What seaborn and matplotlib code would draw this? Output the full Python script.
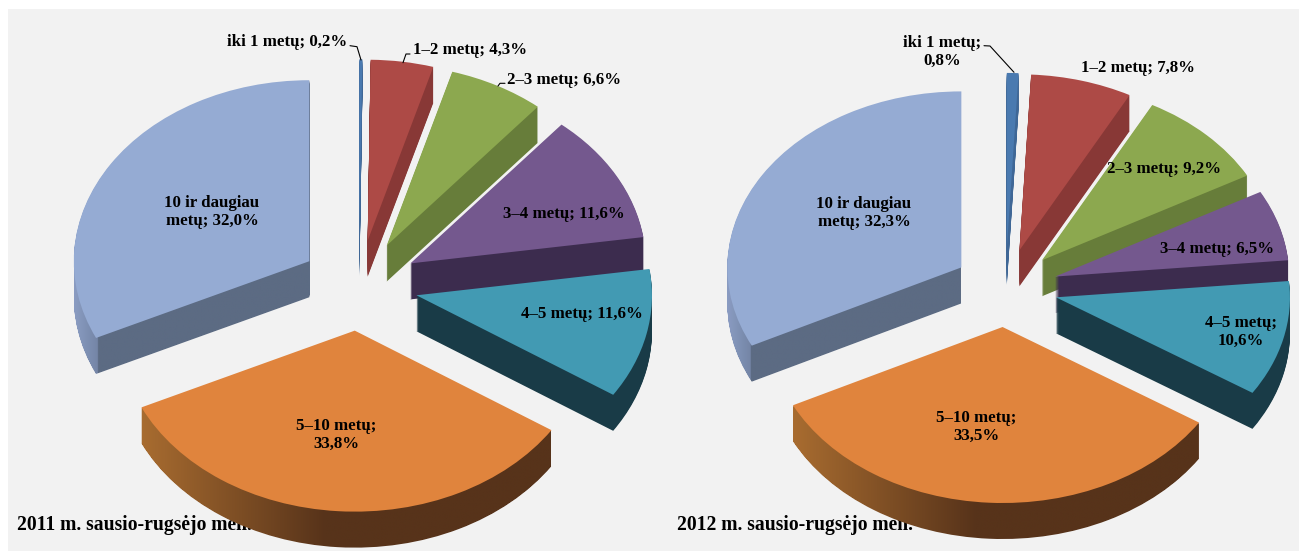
import numpy as np
import matplotlib
matplotlib.use("Agg")
import matplotlib.pyplot as plt
from matplotlib.colors import LinearSegmentedColormap
from matplotlib.patches import PathPatch, Rectangle
from matplotlib.path import Path
import seaborn as sns

# ---------- data ----------
categories = ["iki 1 metų", "1–2 metų", "2–3 metų", "3–4 metų", "4–5 metų", "5–10 metų", "10 ir daugiau metų"]
values_2011 = [0.2, 4.3, 6.6, 11.6, 11.6, 33.8, 32.0]
# Slice sizes as measured in the picture: the 1–2 metų slice is drawn at about 7.0 %,
# although its printed label reads 7,8 % (the printed labels add up to 100,5 %).
values_2012 = [0.8, 7.0, 9.2, 6.5, 10.6, 33.5, 32.3]
labels_2011 = ["iki 1 metų; 0,2%", "1–2 metų; 4,3%", "2–3 metų; 6,6%", "3–4 metų; 11,6%",
               "4–5 metų; 11,6%", "5–10 metų;\n33,8%", "10 ir daugiau\nmetų; 32,0%"]
labels_2012 = ["iki 1 metų;\n0,8%", "1–2 metų; 7,8%", "2–3 metų; 9,2%", "3–4 metų; 6,5%",
               "4–5 metų;\n10,6%", "5–10 metų;\n33,5%", "10 ir daugiau\nmetų; 32,3%"]
captions = ["2011 m. sausio-rugsėjo mėn.", "2012 m. sausio-rugsėjo mėn."]

# ---------- style ----------
W, H = 1299, 551
sns.set_theme(style="white")
plt.rcParams["font.family"] = ["Liberation Serif", "DejaVu Serif"]
top_colors = sns.color_palette(["#4a7ab0", "#ad4a46", "#8ca84f", "#74588e", "#429ab3", "#e0843d", "#95abd3"])
side_colors = sns.color_palette(["#3f6796", "#883836", "#677d3a", "#3c2c4e", "#193b47", "#57331a", "#5c6b83"])
draw_rank = [1, 2, 3, 4, 5, 6, 0]
side_ramps = {
    5: [(0.0, "#a86c30"), (0.45, "#57331a"), (1.0, "#57331a")],
    6: [(0.0, "#8a9cc2"), (0.1, "#7485a6"), (0.101, "#5c6b83"), (1.0, "#5c6b83")],
}
FS = 12.2

fig = plt.figure(figsize=(W / 100, H / 100), dpi=100, facecolor="white")
fig.add_artist(Rectangle((8 / W, 0), 1 - 8 / W, 1 - 9 / H, transform=fig.transFigure,
                         facecolor="#f2f2f2", edgecolor="none", zorder=-5))


def draw_pie(values, cx, cy, rx, ry, depth, explode, labels, label_pos, leaders, caption, cap_xy):
    ax = fig.add_axes([0, 0, 1, 1], zorder=1)
    ax.patch.set_alpha(0)
    n = len(values)
    px = lambda x, y: ((x - cx) / rx, (cy - y) / ry)
    side_wedges = {i: [] for i in range(n)}
    for d in np.arange(depth, -0.5, -1.0):
        colors = top_colors if d == 0 else side_colors
        wedges, _ = ax.pie(values, explode=[explode] * n, startangle=90, counterclock=False,
                           center=(0, -d / ry), colors=colors, wedgeprops=dict(linewidth=0),
                           normalize=True)
        for i, w in enumerate(wedges):
            w.set_zorder(draw_rank[i] * 1000 + (depth - d) + 1)
            if d > 0:
                side_wedges[i].append(w)
    x0, x1 = -cx / rx, (W - cx) / rx
    y0, y1 = (cy - H) / ry, cy / ry
    for i, ramp in side_ramps.items():
        paths = []
        for w in side_wedges[i]:
            w.set_visible(False)
            paths.append(w.get_path().transformed(w.get_patch_transform()))
        clip = Path.make_compound_path(*paths)
        bb = clip.get_extents()
        cmap = LinearSegmentedColormap.from_list("side", ramp)
        im = ax.imshow(np.linspace(0, 1, 512)[None, :], cmap=cmap, aspect="auto",
                       extent=(bb.x0, bb.x1, bb.y0, bb.y1), interpolation="bilinear",
                       zorder=draw_rank[i] * 1000 + 1)
        im.set_clip_path(PathPatch(clip, transform=ax.transData))
    ax.set_aspect("auto")
    ax.set_xlim(x0, x1)
    ax.set_ylim(y0, y1)
    ax.set_axis_off()
    for txt, (x, y) in zip(labels, label_pos):
        ax.text(*px(x, y + 1), txt, ha="center", va="center", fontsize=FS, fontweight="bold",
                color="black", linespacing=1.15, zorder=9000)
    for line in leaders:
        pts = np.array([px(x, y) for x, y in line])
        ax.plot(pts[:, 0], pts[:, 1], color="black", lw=0.8, zorder=9000)
    fig.text(cap_xy[0] / W, 1 - cap_xy[1] / H, caption, ha="left", va="center",
             fontsize=14.1, fontweight="bold", color="black", zorder=0)


draw_pie(values_2011, 359, 285.5, 235.5, 181, 36, 0.25, labels_2011,
         [(287, 41), (470, 49), (564, 79), (564, 213), (582, 313), (336, 434), (212, 211)],
         [[(350, 45.7), (357, 46.7), (361, 60)], [(403, 62.7), (406, 54), (410, 54)],
          [(498, 86), (500, 83.3), (505, 83.3)]],
         captions[0], (17, 525))
draw_pie(values_2012, 1005.5, 288, 234, 176, 36, 0.222, labels_2012,
         [(942, 51), (1138, 67), (1164, 168), (1217, 248), (1241, 331), (976, 426), (864, 212)],
         [[(984, 45.7), (990, 46), (1014, 72.3)]],
         captions[1], (677, 525))

fig.savefig("out.png", dpi=100, facecolor=fig.get_facecolor())
